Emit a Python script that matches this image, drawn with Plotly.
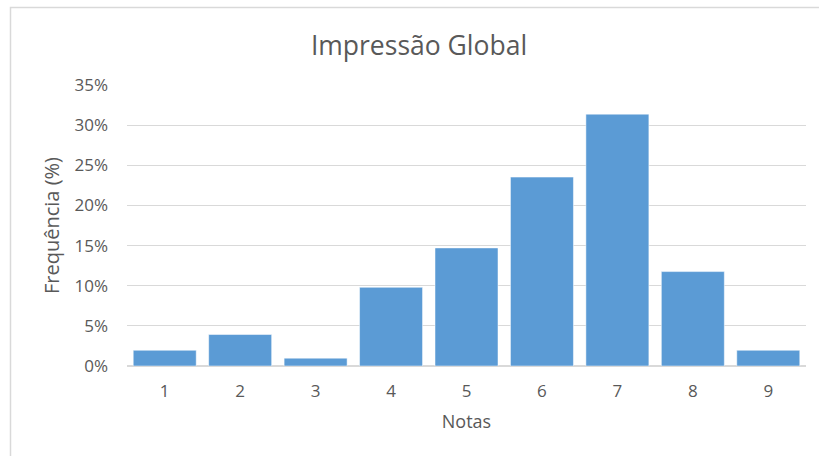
import plotly.graph_objects as go

notas = ["1", "2", "3", "4", "5", "6", "7", "8", "9"]
frequencia = [1.96, 3.92, 0.98, 9.80, 14.71, 23.53, 31.37, 11.76, 1.96]
y_ticks = [0, 5, 10, 15, 20, 25, 30, 35]
y_tick_labels = [f"{v}%" for v in y_ticks]

W, H = 819, 456
L, R, T, B = 127, 13, 85, 90
pw, ph = W - L - R, H - T - B

font = "Open Sans"
grey = "#595959"

fig = go.Figure(go.Bar(
    x=notas, y=frequencia,
    marker=dict(color="#5B9BD5", line=dict(color="#FFFFFF", width=0.5)),
))

fig.update_layout(
    width=W, height=H,
    margin=dict(l=L, r=R, t=T, b=B),
    paper_bgcolor="white", plot_bgcolor="white",
    bargap=0.165,
    showlegend=False,
    font=dict(family=font, color=grey),
    title=dict(text="Impressão Global", x=419 / W, xanchor="center",
               y=1 - 46 / H, yanchor="middle",
               font=dict(family=font, size=26.5, color=grey)),
    xaxis=dict(title=dict(text="Notas", font=dict(size=18, color=grey), standoff=13),
               tickfont=dict(size=17, color=grey),
               showgrid=False, showline=True, linecolor="#D9D9D9",
               ticks="", ticklabelstandoff=10),
    yaxis=dict(title=dict(text="Frequência (%)", font=dict(size=20, color=grey), standoff=9),
               range=[0, 35], tickvals=y_ticks, ticktext=y_tick_labels,
               tickfont=dict(size=17, color=grey),
               showgrid=True, gridcolor="#D9D9D9", gridwidth=1,
               zeroline=True, zerolinecolor="#D9D9D9",
               showline=False, ticks="", ticklabelstandoff=18),
    shapes=[dict(type="rect", xref="paper", yref="paper",
                 x0=(10.5 - L) / pw, x1=1.2,
                 y0=-0.5, y1=1 + (T - 7.5) / ph,
                 line=dict(color="#D9D9D9", width=1.5), fillcolor="rgba(0,0,0,0)",
                 layer="below")],
)

fig.write_html("out.html")
